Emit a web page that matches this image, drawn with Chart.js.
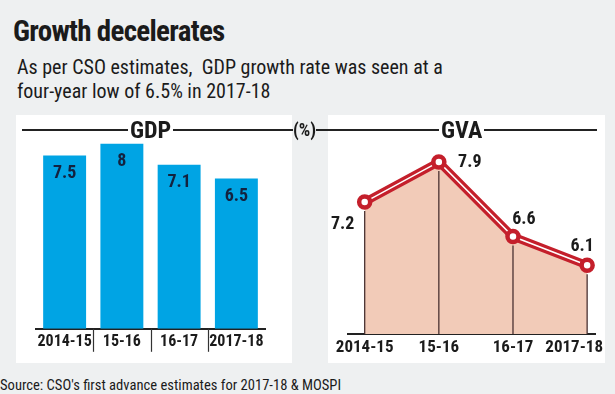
<!DOCTYPE html>
<html>
<head>
<meta charset="utf-8">
<script src="https://cdn.jsdelivr.net/npm/chart.js@4.4.1/dist/chart.umd.min.js"></script>
<style>
  body {
    margin: 0;
    width: 615px;
    height: 394px;
    background: #eef0f1;
    position: relative;
    overflow: hidden;
    font-family: "Roboto Condensed", sans-serif;
    color: #1b1b1b;
  }
  .abs { position: absolute; white-space: nowrap; }
  #title { left: 13px; top: 14px; font-size: 29px; font-weight: bold; letter-spacing: -0.7px; line-height: 34px; }
  #subtitle { left: 17px; top: 55px; font-size: 20px; line-height: 24px; }
  #source { left: 0; top: 377px; font-size: 14.6px; line-height: 16px; }
  .panel { background: #fff; top: 115px; height: 248px; }
  #rule { left: 22px; top: 129px; width: 575px; height: 2px; background: #222; }
  .head { top: 117px; font-size: 24px; font-weight: bold; background: #fff; padding: 0 2px; line-height: 26px; }
  #pct { left: 293px; top: 119px; font-size: 18px; font-weight: bold; background: #eef0f1; line-height: 22px; }
</style>
</head>
<body>
<div id="title" class="abs">Growth decelerates</div>
<div id="subtitle" class="abs">As per CSO estimates,&nbsp; GDP growth rate was seen at a<br>four-year low of 6.5% in 2017-18</div>

<div class="abs panel" style="left:16px; width:276px;"></div>
<div class="abs panel" style="left:328px; width:277px;"></div>

<div class="abs" style="left:16px; top:115px; width:276px; height:248px;"><canvas id="gdpChart"></canvas></div>
<div class="abs" style="left:328px; top:115px; width:277px; height:248px;"><canvas id="gvaChart"></canvas></div>

<div id="rule" class="abs"></div>
<div class="abs head" style="left:128px;">GDP</div>
<div class="abs head" style="left:439px;">GVA</div>
<div id="pct" class="abs">(%)</div>

<div id="source" class="abs">Source: CSO's first advance estimates for 2017-18 &amp; MOSPI</div>

<script>
const years = ['2014-15', '15-16', '16-17', '2017-18'];
const gdpGrowth = [7.5, 8, 7.1, 6.5];
const gvaGrowth = [7.2, 7.9, 6.6, 6.1];

const FONT = '"Roboto Condensed", sans-serif';
const RED = '#c41f2b';

// numbers inside the top of each bar + short separators between the year labels
const barDecor = {
    id: 'barDecor',
    afterDatasetsDraw(chart) {
        const ctx = chart.ctx;
        const area = chart.chartArea;
        const xScale = chart.scales.x;
        const values = chart.data.datasets[0].data;
        ctx.save();
        ctx.font = 'bold 18px ' + FONT;
        ctx.fillStyle = '#13223f';
        ctx.textAlign = 'center';
        ctx.textBaseline = 'middle';
        chart.getDatasetMeta(0).data.forEach((bar, i) => {
            ctx.fillText(values[i], bar.x, bar.y + 18);
        });

        ctx.strokeStyle = '#333';
        ctx.lineWidth = 1.2;
        for (let i = 0; i < values.length - 1; i++) {
            const x = Math.round((xScale.getPixelForValue(i) + xScale.getPixelForValue(i + 1)) / 2) + 0.5;
            ctx.beginPath();
            ctx.moveTo(x, area.bottom);
            ctx.lineTo(x, area.bottom + 23);
            ctx.stroke();
        }
        ctx.restore();
    }
};

// thin drop lines, value labels and category labels for the line chart
const gvaDecor = {
    id: 'gvaDecor',
    afterDatasetsDraw(chart, args, opts) {
        const ctx = chart.ctx;
        const area = chart.chartArea;
        const points = chart.getDatasetMeta(0).data;
        const values = chart.data.datasets[0].data;
        ctx.save();

        ctx.strokeStyle = '#4a3232';
        ctx.lineWidth = 1.3;
        points.forEach(p => {
            ctx.beginPath();
            ctx.moveTo(p.x, p.y + 9);
            ctx.lineTo(p.x, area.bottom);
            ctx.stroke();
        });

        ctx.fillStyle = '#1b1b1b';
        ctx.textAlign = 'center';
        ctx.textBaseline = 'middle';
        ctx.font = 'bold 18px ' + FONT;
        points.forEach((p, i) => {
            const off = opts.offsets[i];
            ctx.fillText(values[i].y.toFixed(1), p.x + off[0], p.y + off[1]);
        });

        ctx.font = 'bold 17px ' + FONT;
        const xScale = chart.scales.x;
        chart.data.labels.forEach((label, i) => {
            const w = ctx.measureText(label).width;
            let x = xScale.getPixelForValue(i);
            x = Math.min(x, chart.width - 2 - w / 2);
            ctx.fillText(label, x, area.bottom + 14);
        });
        ctx.restore();
    }
};

new Chart(document.getElementById('gdpChart'), {
    type: 'bar',
    data: {
        labels: years,
        datasets: [{
            data: gdpGrowth,
            backgroundColor: '#00a4e4',
            barPercentage: 0.75,
            categoryPercentage: 1
        }]
    },
    options: {
        responsive: true,
        maintainAspectRatio: false,
        animation: false,
        layout: { padding: { left: 20, right: 27, top: 15, bottom: 7 } },
        plugins: { legend: { display: false }, tooltip: { enabled: false } },
        scales: {
            y: { display: false, min: 0, max: 8.6 },
            x: {
                border: { display: true, color: '#222', width: 2 },
                grid: { display: false, drawTicks: false },
                ticks: {
                    padding: 4,
                    maxRotation: 0,
                    autoSkip: false,
                    color: '#1b1b1b',
                    font: { family: FONT, size: 16, weight: 'bold' }
                }
            }
        }
    },
    plugins: [barDecor]
});

const gvaPoints = gvaGrowth.map((v, i) => ({ x: i, y: v }));

new Chart(document.getElementById('gvaChart'), {
    type: 'line',
    data: {
        labels: years,
        datasets: [
            {   // markers on top
                data: gvaPoints,
                showLine: false,
                pointRadius: 5.5,
                pointBorderWidth: 4.5,
                pointBackgroundColor: '#fff',
                pointBorderColor: RED
            },
            {   // white centre stripe
                data: gvaPoints,
                borderColor: '#fff',
                borderWidth: 1.5,
                pointRadius: 0,
                fill: false
            },
            {   // thick red line with the shaded area below
                data: gvaPoints,
                borderColor: RED,
                borderWidth: 8,
                pointRadius: 0,
                fill: 'start',
                backgroundColor: '#f2cbb8'
            }
        ]
    },
    options: {
        responsive: true,
        maintainAspectRatio: false,
        animation: false,
        layout: { padding: { left: 20, right: 5, top: 24, bottom: 29 } },
        plugins: {
            legend: { display: false },
            tooltip: { enabled: false },
            gvaDecor: { offsets: [[-22, 22], [31, 1], [11, -17], [-5, -19]] }
        },
        scales: {
            y: { display: false, min: 4.9, max: 8.3 },
            x: {
                type: 'linear',
                min: -0.225,
                max: 3.106,
                border: { display: true, color: '#222', width: 2 },
                grid: { display: false, drawTicks: false },
                ticks: { display: false }
            }
        }
    },
    plugins: [gvaDecor]
});
</script>
</body>
</html>
